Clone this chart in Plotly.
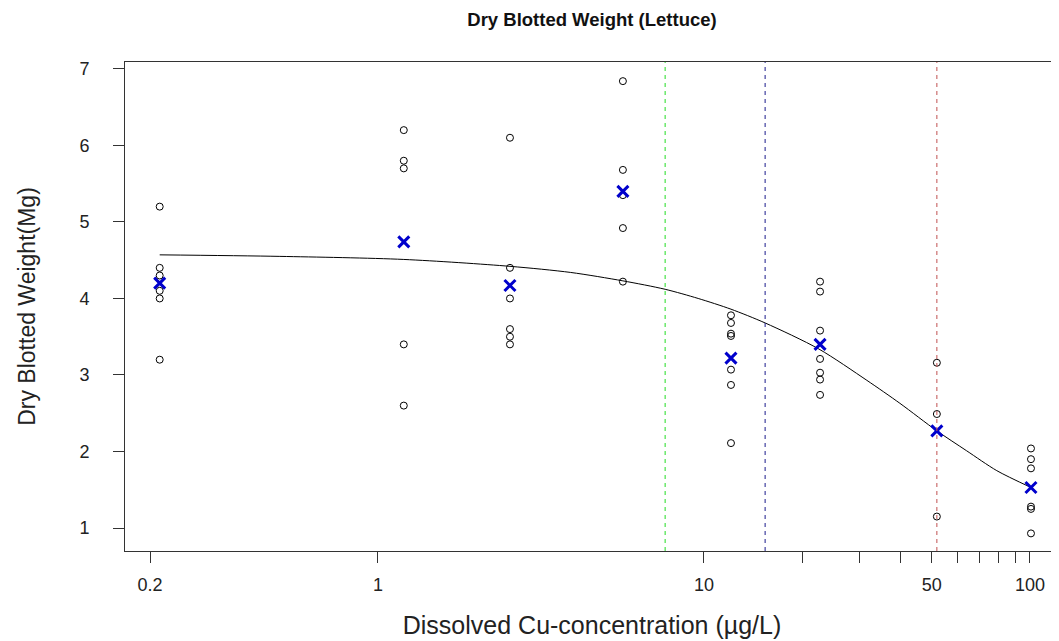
import plotly.graph_objects as go

# concentrations of the eight treatment groups (µg/L)
conc = [0.214, 1.2, 2.54, 5.64, 12.1, 22.7, 51.8, 100.7]

# individual replicate weights per group
obs = [
    [5.2, 4.4, 4.3, 4.1, 4.0, 3.2],
    [6.2, 5.8, 5.7, 3.4, 2.6],
    [6.1, 4.4, 4.0, 3.6, 3.5, 3.4],
    [6.84, 5.68, 5.35, 4.92, 4.22],
    [3.78, 3.68, 3.54, 3.51, 3.07, 2.87, 2.11],
    [4.22, 4.09, 3.58, 3.21, 3.03, 2.94, 2.74],
    [3.16, 2.49, 1.15],
    [2.04, 1.90, 1.78, 1.28, 1.25, 0.93],
]

# group means (blue crosses)
means = [4.20, 4.74, 4.17, 5.40, 3.22, 3.40, 2.27, 1.53]

# fitted dose-response curve
curve_x = [0.214, 0.5, 1.2, 2.54, 3.9, 5.64, 7.6, 9.6, 12.1, 15.4,
           22.5, 31.6, 39.9, 51.8, 63.9, 79.1, 100.7]
curve_y = [4.57, 4.55, 4.51, 4.42, 4.34, 4.23, 4.12, 4.00, 3.86, 3.68,
           3.34, 2.93, 2.63, 2.27, 2.01, 1.75, 1.53]

# effect concentrations (EC10, EC20, EC50)
ec_vals = [7.6, 15.4, 51.8]
ec_colors = ["#22dd22", "#1a1a8c", "#c05050"]

x_tickvals = [0.2, 1, 10, 20, 30, 40, 50, 60, 70, 80, 90, 100]
x_ticktext = ["0.2", "1", "10", "", "", "", "50", "", "", "", "", "100"]
y_tickvals = [1, 2, 3, 4, 5, 6, 7]

FONT = "Liberation Sans, Arial, sans-serif"
AXIS_COL = "#333333"

# page body adds an 8px margin, so the figure is sized to the visible area
W, H = 1051, 633

fig = go.Figure()

pts_x = [c for c, grp in zip(conc, obs) for _ in grp]
pts_y = [v for grp in obs for v in grp]
fig.add_trace(go.Scatter(
    x=pts_x, y=pts_y, mode="markers",
    marker=dict(symbol="circle-open", size=7, color="black", line=dict(width=1)),
    showlegend=False,
))

fig.add_trace(go.Scatter(
    x=curve_x, y=curve_y, mode="lines",
    line=dict(color="black", width=1, shape="spline", smoothing=0.8),
    showlegend=False,
))

fig.add_trace(go.Scatter(
    x=conc, y=means, mode="markers",
    marker=dict(symbol="x-thin", size=11, color="#0000cc",
                line=dict(width=3, color="#0000cc")),
    showlegend=False,
))

for v, col in zip(ec_vals, ec_colors):
    fig.add_shape(
        type="line", xref="x", yref="paper",
        x0=v, x1=v, y0=0, y1=1,
        line=dict(color=col, width=1, dash="4px,4px"),
    )

fig.update_layout(
    width=W, height=H,
    margin=dict(l=117, r=0, t=54, b=90),
    paper_bgcolor="white", plot_bgcolor="white",
    font=dict(family=FONT, color="#222222", size=18),
    title=dict(
        text="<b>Dry Blotted Weight (Lettuce)</b>",
        font=dict(size=18.5, color="#111111"),
        x=0.5, xref="paper", xanchor="center",
        y=1 - 12 / H, yref="container", yanchor="middle",
        automargin=False,
    ),
)

fig.update_xaxes(
    type="log", range=[-0.776, 2.089], automargin=False,
    tickvals=x_tickvals, ticktext=x_ticktext,
    ticks="outside", ticklen=11, tickcolor=AXIS_COL, tickwidth=1,
    ticklabelstandoff=6,
    showline=True, linecolor=AXIS_COL, linewidth=1, mirror=True,
    showgrid=False, zeroline=False,
    title=dict(text="Dissolved Cu-concentration (µg/L)", font=dict(size=25), standoff=22),
)
fig.update_yaxes(
    range=[0.70, 7.09], automargin=False,
    tickvals=y_tickvals,
    ticks="outside", ticklen=11, tickcolor=AXIS_COL, tickwidth=1,
    ticklabelstandoff=20,
    showline=True, linecolor=AXIS_COL, linewidth=1,
    showgrid=False, zeroline=False,
    title=dict(text="Dry Blotted Weight(Mg)", font=dict(size=23), standoff=37),
)

fig.write_html("out.html")
